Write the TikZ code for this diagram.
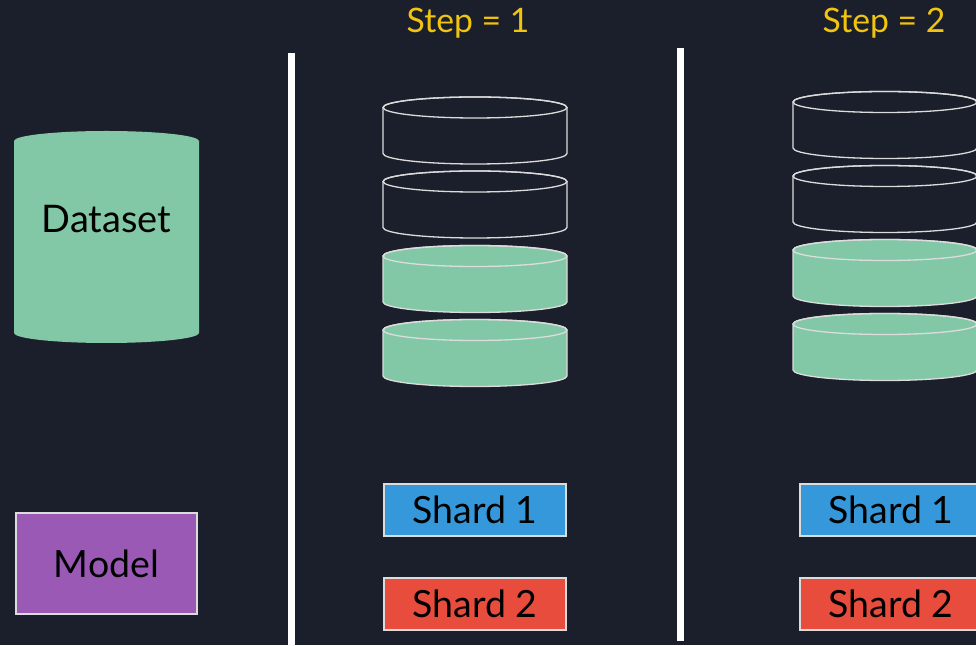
\documentclass[tikz,border=0pt]{standalone}
\usepackage{fontspec}
\setmainfont{Lato}
\definecolor{bgc}{RGB}{27,31,43}
\definecolor{edgec}{RGB}{220,220,220}
\definecolor{greenc}{RGB}{130,200,166}
\definecolor{bluec}{RGB}{52,152,219}
\definecolor{redc}{RGB}{231,76,60}
\definecolor{purplec}{RGB}{155,89,182}
\definecolor{yellowc}{RGB}{241,196,15}
\tikzset{
  labeltext/.style={font=\fontsize{37.5}{44}\selectfont, text=black},
  steptext/.style={font=\fontsize{33.7}{40}\selectfont, text=yellowc, anchor=base},
  shardbox/.style={draw=edgec, line width=1.2pt, minimum width=182pt, minimum height=52pt, inner sep=0pt, labeltext},
  divider/.style={draw=white, line width=7pt},
  pics/disk/.style={code={
    \path[fill=#1, draw=edgec, line width=1.3pt]
      (-92,0) -- (-92,-46) arc[start angle=180, end angle=360, x radius=92pt, y radius=10.5pt]
      -- (92,0) arc[start angle=0, end angle=180, x radius=92pt, y radius=10.5pt] -- cycle;
    \draw[edgec, line width=1.3pt] (0,0) ellipse[x radius=92pt, y radius=10.5pt];
  }}
}
\begin{document}
\begin{tikzpicture}[x=1pt, y=1pt]
\fill[bgc] (0,0) rectangle (976,645);
\useasboundingbox (0,0) rectangle (976,645);
\clip (0,0) rectangle (976,645);

% Dataset cylinder
\fill[greenc] (14,504) -- (14,312) arc[start angle=180, end angle=360, x radius=92.5pt, y radius=10pt]
  -- (199,504) arc[start angle=0, end angle=180, x radius=92.5pt, y radius=10pt] -- cycle;
\node[labeltext, font=\fontsize{38}{44}\selectfont, anchor=base] (dataset) at (106.5,412) {Dataset};

% Model
\node[draw=edgec, line width=1.2pt, fill=purplec, minimum width=181pt, minimum height=101pt, inner sep=0pt, labeltext] (model) at (106.5,81.5) {Model};

% dividers
\coordinate (d1top) at (291,592);
\coordinate (d1bot) at (291,-5);
\coordinate (d2top) at (680,597);
\coordinate (d2bot) at (680,4);
\draw[divider] (d1top) -- (d1bot);
\draw[divider] (d2top) -- (d2bot);

% step labels
\node[steptext] (step1) at (468,612) {Step = 1};
\node[steptext] (step2) at (884,612) {Step = 2};

% step 1 disks
\pic at (475,537.5) {disk=bgc};
\pic at (475,463.5) {disk=bgc};
\pic at (475,389) {disk=greenc};
\pic at (475,315) {disk=greenc};

% step 2 disks
\pic at (885,543) {disk=bgc};
\pic at (885,469) {disk=bgc};
\pic at (885,395) {disk=greenc};
\pic at (885,321) {disk=greenc};

% shards
\node[shardbox, fill=bluec] (s11) at (475,135) {Shard 1};
\node[shardbox, fill=redc] (s12) at (475,41) {Shard 2};
\node[shardbox, fill=bluec] (s21) at (891,135) {Shard 1};
\node[shardbox, fill=redc] (s22) at (891,41) {Shard 2};
\end{tikzpicture}
\end{document}
